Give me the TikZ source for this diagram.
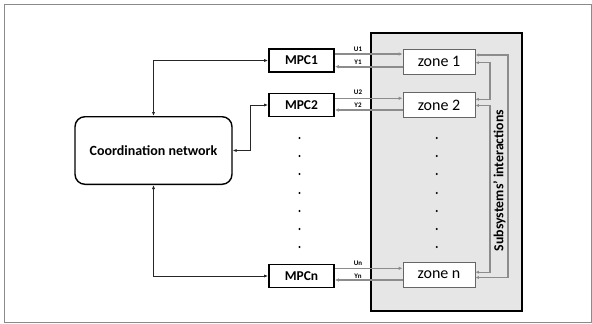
\documentclass[tikz,border=0pt]{standalone}
\usepackage{fontspec}
\setmainfont{Carlito}
\usetikzlibrary{arrows.meta}
\definecolor{lgray}{HTML}{8C8C8C}
\definecolor{boxfill}{HTML}{E6E6E6}
\definecolor{frame}{HTML}{8A8A8A}
\tikzset{
  mpcbox/.style={draw=black, line width=1.8pt, fill=white, minimum width=65pt, minimum height=23pt, inner sep=0pt, font=\fontsize{13.5}{15}\selectfont\bfseries},
  zonebox/.style={draw=black!60, line width=0.8pt, fill=white, minimum width=72pt, minimum height=25pt, inner sep=0pt, font=\fontsize{16}{18}\selectfont},
  coordbox/.style={draw=black, line width=1.4pt, rounded corners=10pt, fill=white, minimum width=157pt, minimum height=67.6pt, inner sep=0pt, font=\fontsize{14}{16}\selectfont\bfseries},
  blk/.style={draw=black!85, line width=0.8pt, {Latex[length=4pt,width=3.2pt]}-{Latex[length=4pt,width=3.2pt]}},
  sig/.style={draw=lgray, line width=1.6pt, -{Latex[length=4pt,width=3.6pt]}},
  inter/.style={draw=lgray, line width=1.1pt, {Latex[length=3.5pt,width=3.2pt]}-{Latex[length=3.5pt,width=3.2pt]}},
  siglab/.style={font=\fontsize{7}{8}\selectfont\bfseries, inner sep=0pt},
  dotmark/.style={circle, fill=black, inner sep=0pt, minimum size=2.2pt}
}
\begin{document}
\begin{tikzpicture}[x=1pt,y=-1pt]
\useasboundingbox (0,0) rectangle (592,324);
\draw[frame, line width=1pt] (4,4.5) rectangle (591.5,322.5);
\draw[fill=boxfill, draw=black, line width=2pt] (371,33) rectangle (522,311);
% nodes
\node[coordbox] (C) at (153.5,150.5) {Coordination network};
\node[mpcbox] (M1) at (301.5,60.5) {MPC1};
\node[mpcbox] (M2) at (301.5,105) {MPC2};
\node[mpcbox] (Mn) at (301.5,276) {MPCn};
\node[zonebox] (Z1) at (439,61.5) {zone 1};
\node[zonebox] (Z2) at (439,105) {zone 2};
\node[zonebox] (Zn) at (439,274.7) {zone n};
% dots
\foreach \yy [count=\i] in {138,156,174,193,211,229,247}{
  \node[dotmark] (dm\i) at (299.4,\yy) {};
  \node[dotmark] (dz\i) at (436.8,\yy) {};
}
% black connectors
\draw[blk] (C.north) |- (M1.west);
\coordinate (cj) at (250.6,150.5);
\draw[blk] (C.east) -- (cj) |- (M2.west);
\draw[blk] (C.south) |- (Mn.west);
% signals
\draw[sig] (M1.east |- 0,54) -- (Z1.west |- 0,54);
\draw[sig] (Z1.west |- 0,66.7) -- (M1.east |- 0,66.7);
\draw[sig] (M2.east |- 0,98.3) -- (Z2.west |- 0,98.3);
\draw[sig] (Z2.west |- 0,110) -- (M2.east |- 0,110);
\draw[sig] (Mn.east |- 0,268.3) -- (Zn.west |- 0,268.3);
\draw[sig] (Zn.west |- 0,280) -- (Mn.east |- 0,280);
\node[siglab] (u1) at (358,49.3) {U1};
\node[siglab] (y1) at (358,62) {Y1};
\node[siglab] (u2) at (358,92.7) {U2};
\node[siglab] (y2) at (358,105.3) {Y2};
\node[siglab] (un) at (358,263.3) {Un};
\node[siglab] (yn) at (358,276) {Yn};
% interactions
\draw[inter] (Z1.east |- 0,55) -- (508,55) -- (508,277.5) -- (Zn.east |- 0,277.5);
\draw[inter] (Z1.east |- 0,62.7) -- (490,62.7) -- (490,99.3) -- (Z2.east |- 0,99.3);
\draw[inter] (Z2.east |- 0,105.5) -- (490,105.5) -- (490,272.2) -- (Zn.east |- 0,272.2);
\node[rotate=90, font=\fontsize{13.8}{15}\selectfont\bfseries, inner sep=0pt] (si) at (499.5,180.5) {Subsystems’ interactions};
\end{tikzpicture}
\end{document}
